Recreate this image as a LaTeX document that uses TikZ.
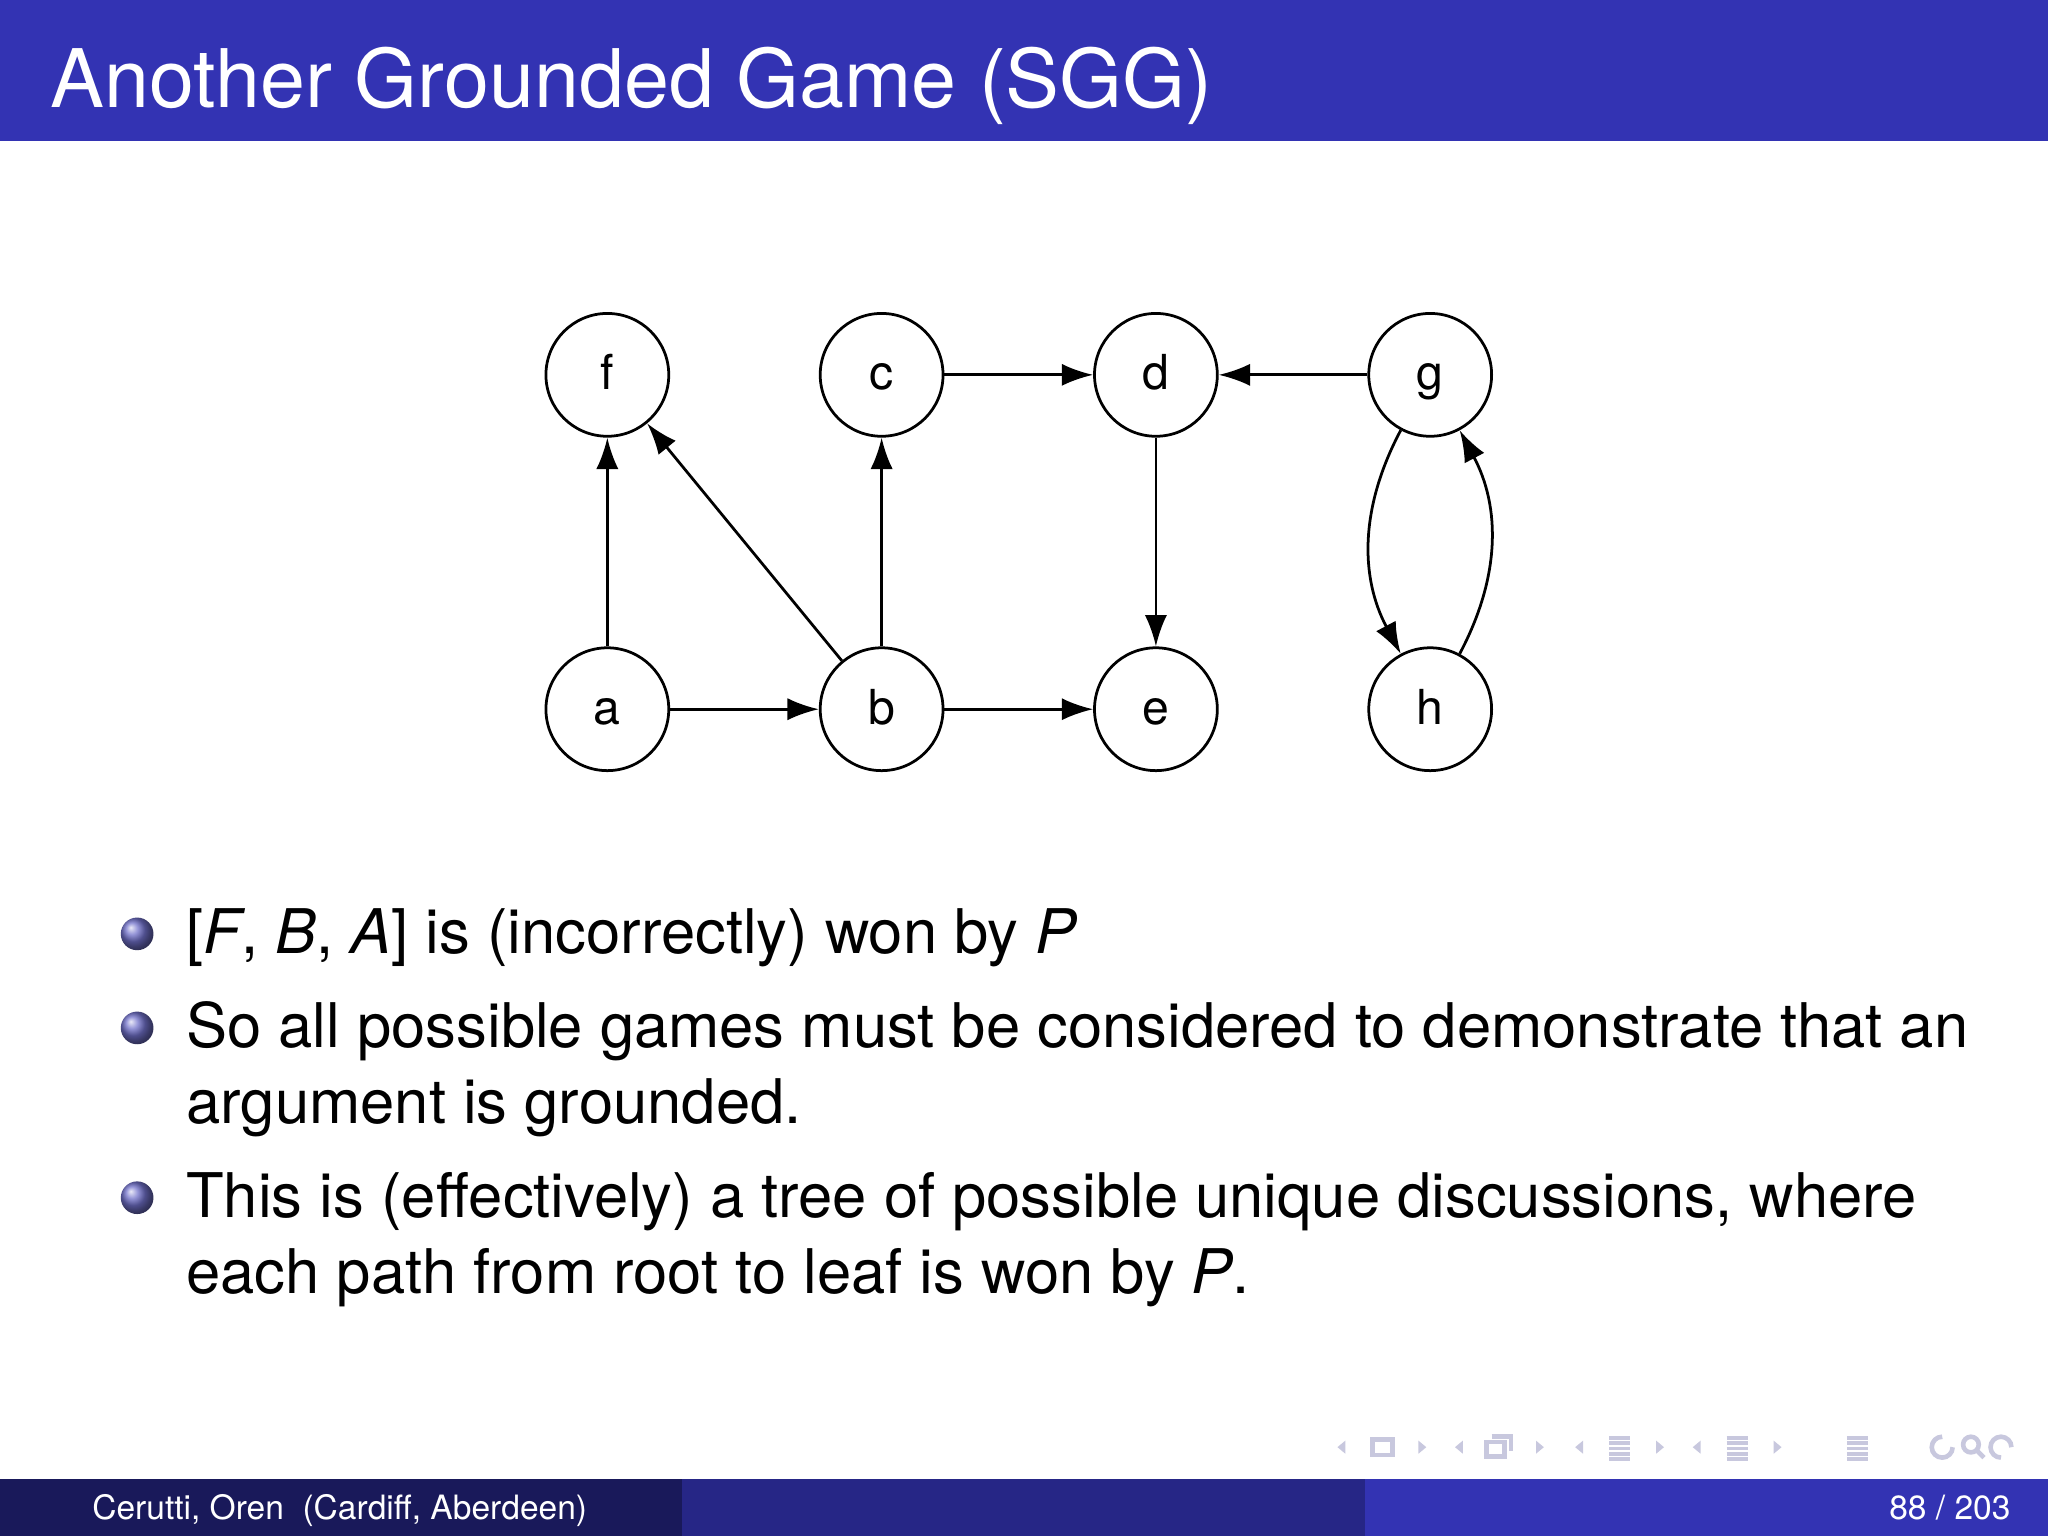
\documentclass[tikz,border=0pt]{standalone}
\usepackage{fontspec}
\setmainfont{TeX Gyre Heros}
\usetikzlibrary{arrows.meta}
\definecolor{barblue}{RGB}{51,51,179}
\definecolor{footA}{RGB}{25,25,90}
\definecolor{footB}{RGB}{38,38,134}
\definecolor{navgrey}{RGB}{200,200,222}
\tikzset{
  arg/.style={circle,draw,line width=0.6pt,minimum size=0.94cm,inner sep=0pt,text height=1.6ex,text depth=0.35ex,font=\fontsize{10.5}{12}\selectfont},
  att/.style={-{Latex[length=0.24cm,width=0.17cm]},line width=0.6pt},
  body/.style={anchor=base west,font=\fontsize{13.4}{16}\selectfont},
  bul/.style={circle,inner sep=0pt,minimum size=0.25cm,ball color=barblue!70!white},
  nav/.style={fill=navgrey,draw=none}
}
\begin{document}
\begin{tikzpicture}[x=0.01cm,y=-0.01cm]
\useasboundingbox (0,0) rectangle (1568,1176);
\fill[white] (0,0) rectangle (1568,1176);
% title bar
\fill[barblue] (0,0) rectangle (1568,108);
\node[anchor=base west,text=white,font=\fontsize{17.6}{20}\selectfont,inner sep=0pt] (title) at (38,82) {Another Grounded Game (SGG)};
% graph
\node[arg] (f) at (465,287) {f};
\node[arg] (c) at (675,287) {c};
\node[arg] (d) at (885,287) {d};
\node[arg] (g) at (1095,287) {g};
\node[arg] (a) at (465,543) {a};
\node[arg] (b) at (675,543) {b};
\node[arg] (e) at (885,543) {e};
\node[arg] (h) at (1095,543) {h};
\draw[att] (a) -- (f);
\draw[att] (b) -- (f);
\draw[att] (b) -- (c);
\draw[att] (c) -- (d);
\draw[att] (g) -- (d);
\draw[att] (d) -- (e);
\draw[att] (a) -- (b);
\draw[att] (b) -- (e);
\draw[att] (g) to[bend right=28] (h);
\draw[att] (h) to[bend right=28] (g);
% bullets
\node[bul] (b1) at (105,715) {};
\node[bul] (b2) at (105,787) {};
\node[bul] (b3) at (105,917) {};
\node[body,inner sep=0pt] (t1) at (142,730) {[\textit{F}, \textit{B}, \textit{A}] is (incorrectly) won by \textit{P}};
\node[body,inner sep=0pt] (t2) at (142,802) {So all possible games must be considered to demonstrate that an};
\node[body,inner sep=0pt] (t2b) at (142,860) {argument is grounded.};
\node[body,inner sep=0pt] (t3) at (142,932) {This is (effectively) a tree of possible unique discussions, where};
\node[body,inner sep=0pt] (t3b) at (142,990) {each path from root to leaf is won by \textit{P}.};
% nav symbols
\foreach \x in {1030,1120,1212,1302}{\fill[navgrey] (\x,1103) -- (\x,1113) -- (\x-6,1108) -- cycle;}
\foreach \x in {1086,1176,1268,1358}{\fill[navgrey] (\x,1103) -- (\x,1113) -- (\x+6,1108) -- cycle;}
\draw[navgrey,line width=1pt] (1051,1102) rectangle (1066,1114);
\draw[navgrey,line width=1pt] (1138,1104) rectangle (1152,1115) (1142,1100) -- (1157,1100) -- (1157,1111);
\foreach \x in {1240,1330,1422}{\foreach \yy in {1101,1105,1109,1113,1117}{\draw[navgrey,line width=0.8pt] (\x-8,\yy) -- (\x+8,\yy);}}
\draw[navgrey,line width=1pt] (1495,1108) arc (0:270:8);
\draw[navgrey,line width=1pt] (1509,1106) circle (6) (1513,1110) -- (1519,1116);
\draw[navgrey,line width=1pt] (1540,1108) arc (0:-270:8);
% footer
\fill[footA] (0,1132) rectangle (522,1176);
\fill[footB] (522,1132) rectangle (1045,1176);
\fill[barblue] (1045,1132) rectangle (1568,1176);
\node[anchor=base west,text=white,font=\fontsize{7.3}{8}\selectfont,inner sep=0pt] (auth) at (70,1163) {Cerutti, Oren\ \ (Cardiff, Aberdeen)};
\node[anchor=base east,text=white,font=\fontsize{7.3}{8}\selectfont,inner sep=0pt] (pg) at (1540,1163) {88 / 203};
\end{tikzpicture}
\end{document}
